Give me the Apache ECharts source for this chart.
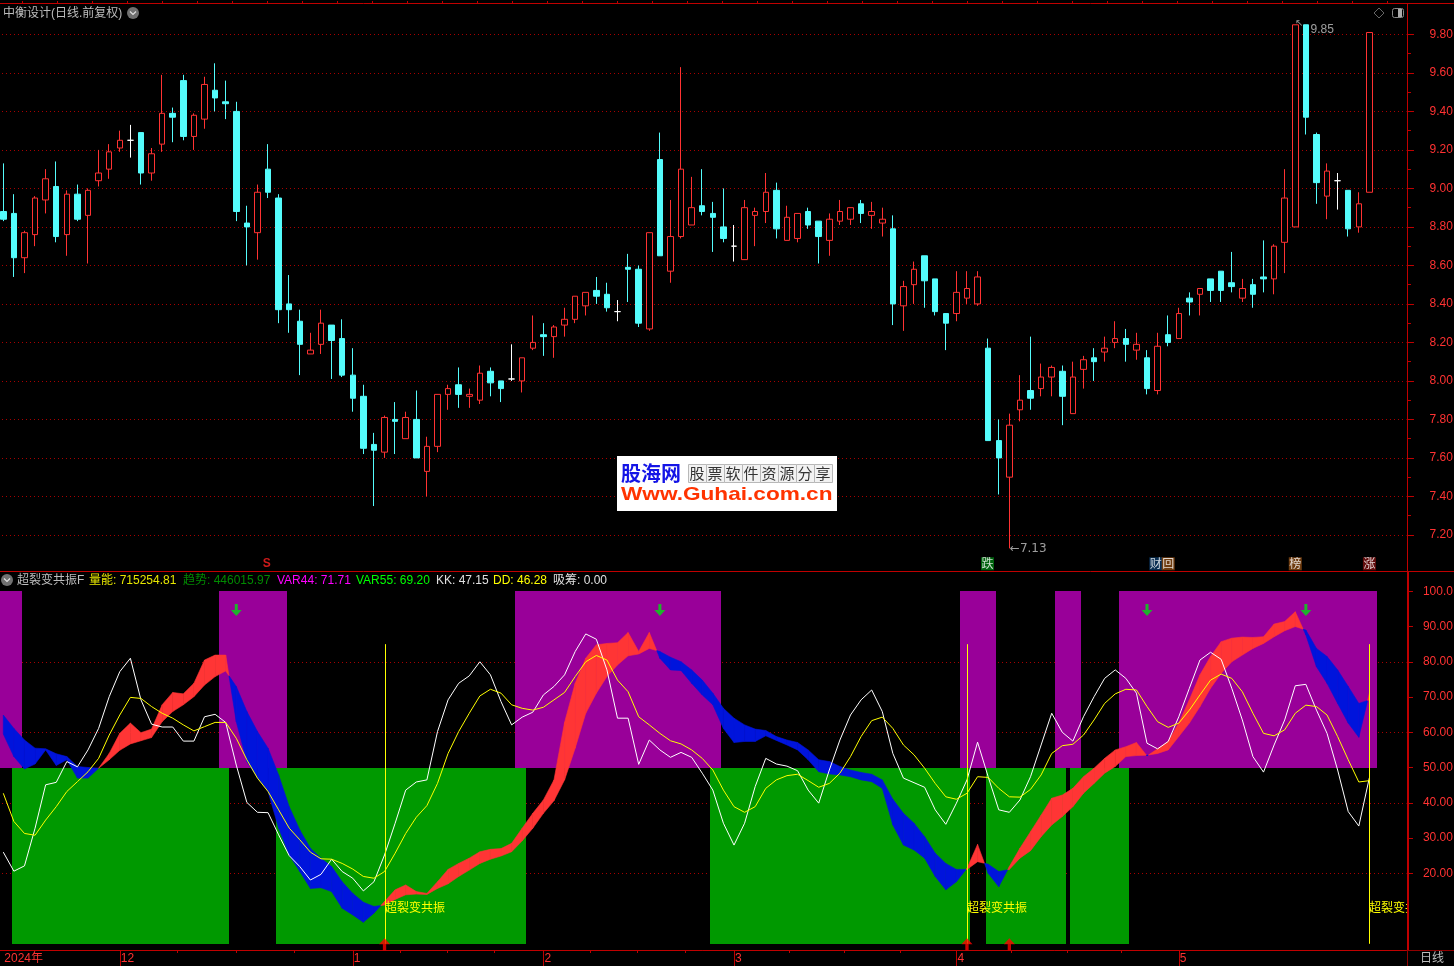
<!DOCTYPE html>
<html><head><meta charset="utf-8">
<style>html,body{margin:0;padding:0;background:#000}#c{width:1454px;height:966px}</style>
<script src="https://cdn.jsdelivr.net/npm/echarts@6/dist/echarts.min.js"></script>
</head><body><div id="c"></div>
<script>
const opens=[8.88,8.87,8.64,8.76,8.94,9.01,8.76,8.97,8.86,9.04,9.10,9.21,9.25,9.29,9.08,9.23,9.39,9.56,9.27,9.36,9.51,9.45,9.40,8.82,8.77,9.10,8.95,8.40,8.31,8.14,8.19,8.29,8.22,8.03,7.92,7.67,7.63,7.80,7.70,7.80,7.53,7.66,7.93,7.98,7.92,7.90,8.05,8.00,8.01,8.00,8.17,8.24,8.23,8.29,8.32,8.39,8.47,8.45,8.36,8.59,8.58,8.27,9.15,8.57,8.75,8.81,8.91,8.87,8.80,8.70,8.63,8.86,8.88,8.99,8.73,8.74,8.88,8.83,8.73,8.83,8.84,8.92,8.86,8.82,8.79,8.39,8.50,8.65,8.53,8.35,8.35,8.43,8.40,8.17,7.69,7.50,7.85,7.95,7.96,8.02,8.05,7.83,8.06,8.12,8.15,8.20,8.22,8.16,8.12,7.95,8.24,8.22,8.43,8.45,8.53,8.57,8.51,8.43,8.50,8.54,8.53,8.72,8.80,9.85,9.28,8.96,9.04,8.99,8.80,8.98];
const closes=[8.84,8.64,8.77,8.95,9.05,8.75,8.97,8.84,8.99,9.08,9.19,9.25,9.25,9.08,9.18,9.39,9.37,9.27,9.38,9.54,9.47,9.44,8.88,8.80,8.98,8.98,8.37,8.37,8.19,8.16,8.30,8.21,8.03,7.91,7.65,7.64,7.81,7.79,7.81,7.60,7.66,7.93,7.96,7.93,7.93,8.04,7.99,7.96,8.01,8.12,8.20,8.23,8.28,8.32,8.44,8.46,8.44,8.38,8.36,8.58,8.30,8.77,8.65,8.75,9.10,8.90,8.88,8.85,8.74,8.70,8.90,8.88,8.98,8.79,8.85,8.87,8.81,8.75,8.84,8.88,8.90,8.87,8.88,8.84,8.40,8.49,8.58,8.52,8.36,8.30,8.46,8.48,8.54,7.69,7.60,7.77,7.90,7.91,8.02,8.07,7.92,8.02,8.11,8.10,8.17,8.22,8.19,8.19,7.96,8.18,8.20,8.35,8.41,8.48,8.47,8.47,8.49,8.48,8.45,8.53,8.70,8.95,9.85,9.37,9.03,9.09,9.04,8.79,8.92,9.81];
const lows=[8.83,8.54,8.56,8.70,8.87,8.72,8.65,8.83,8.61,9.01,9.05,9.19,9.16,9.02,9.04,9.19,9.24,9.25,9.20,9.31,9.40,9.36,8.83,8.60,8.63,8.95,8.30,8.25,8.03,8.14,8.14,8.01,8.02,7.84,7.62,7.35,7.60,7.62,7.70,7.60,7.40,7.63,7.85,7.86,7.86,7.88,7.92,7.89,8.00,7.94,8.16,8.13,8.12,8.23,8.30,8.34,8.40,8.36,8.31,8.41,8.28,8.26,8.65,8.51,8.74,8.81,8.86,8.67,8.72,8.62,8.63,8.70,8.82,8.74,8.73,8.72,8.79,8.61,8.65,8.81,8.81,8.82,8.79,8.75,8.29,8.26,8.40,8.38,8.34,8.16,8.31,8.40,8.39,7.69,7.41,7.13,7.79,7.85,7.92,7.92,7.77,7.83,7.96,8.00,8.10,8.17,8.10,8.11,7.93,7.93,8.18,8.22,8.34,8.34,8.41,8.41,8.46,8.41,8.38,8.46,8.45,8.56,8.80,9.28,8.92,8.84,8.89,8.75,8.77,8.98];
const highs=[9.13,8.97,8.78,8.96,9.10,9.14,8.99,9.02,9.00,9.20,9.23,9.30,9.33,9.29,9.21,9.59,9.42,9.59,9.39,9.58,9.65,9.56,9.45,8.91,9.02,9.23,8.97,8.55,8.37,8.25,8.37,8.29,8.32,8.17,7.98,7.73,7.82,7.89,7.84,7.95,7.71,7.93,7.98,8.07,7.96,8.08,8.07,8.00,8.19,8.12,8.34,8.30,8.29,8.38,8.44,8.46,8.54,8.51,8.42,8.66,8.60,8.77,9.29,8.94,9.63,9.06,9.10,8.93,9.00,8.81,8.94,8.90,9.08,9.03,8.91,8.87,8.90,8.83,8.87,8.94,8.90,8.94,8.93,8.90,8.86,8.52,8.62,8.65,8.53,8.35,8.57,8.57,8.57,8.22,7.80,7.83,8.03,8.23,8.09,8.08,8.08,8.10,8.13,8.17,8.23,8.31,8.27,8.25,8.16,8.25,8.34,8.38,8.46,8.48,8.53,8.57,8.67,8.53,8.53,8.73,8.71,9.10,9.85,9.85,9.29,9.13,9.08,8.99,8.98,9.81];

const whiteLine=[26.0,20.6,22.1,32.8,45.1,45.8,51.7,50.2,55,61.1,70.1,77.2,81,69.2,62.3,61.5,61.5,57.5,57.5,64.4,65.1,62.8,50.7,40.1,37.3,37.2,30.9,25,21.9,18.1,19.7,24,20.5,18.6,15,17.6,25.2,34.2,43.6,45.9,46.5,60.2,69.2,73.9,76,80,76.3,68.7,62.1,64.3,65.7,70.6,73,76.3,82.9,87.9,86.4,77.7,64,64,50.9,57.8,55,52.9,54.3,52.9,48.4,43.6,34.2,28,34.2,44.6,52.6,51,50.4,49.1,43.6,39.9,49.3,57.8,64.9,69.2,72,65.9,54,47,45.7,44.4,38,33.9,39.9,46.5,57.2,47.4,38,37.3,40.8,47.4,56.4,65.4,60,57.5,64.4,70.1,75.3,77.7,75.3,71.1,56.9,55.3,57.4,64.4,72.5,80.5,82.7,80.7,72.5,63.5,53.1,48.7,56.4,63.5,73.2,73.6,66.3,59.7,49.3,37.5,33.4,47.15];
const yellowLine=[42.7,34.7,31.3,30.8,35.1,38.9,43.2,46,48.8,52.6,59.2,64.9,69.9,69.6,67.3,65.4,64,62.1,60.4,61.6,62.8,62.8,58.3,52.2,47,43.2,38,32.8,29.5,26,24.1,24,22.8,21.2,19.1,18.6,20.5,25.7,31.3,35.9,39.2,45.5,54,60.2,65.4,70.3,72.2,71.1,67.8,66.8,66.3,67.1,69.2,71.3,75.8,80,81.8,80.5,74.8,71.5,64.4,62.1,59.7,57.6,56.7,55,52.6,49.3,43.6,38.9,37.3,38.9,44.1,46.5,47.7,48.1,46.3,44.4,45.5,48.4,53.1,58.8,63.3,64.3,61.1,56.4,53.6,49.8,45.5,41.7,41,42.7,47.4,47.2,44.1,41.7,41.6,43.8,47.9,54,56.2,56.6,59.2,63.5,68.2,70.9,72.2,72,67.3,63,61.4,62.6,66.3,70.6,74.8,76.5,75.3,71.5,65.4,59.7,59,60.7,65.4,67.7,67.3,64.9,58.8,52.2,45.9,46.28];
const ribbonA=[59.5,53.1,49.6,51,55,50.6,52.2,47,47,49.8,54,59.7,62.6,59.9,60.9,67.8,71.3,70.9,73.9,80.5,81.9,81.9,63,51.7,47,43.2,32.8,25.2,20.5,15.7,15.9,14.8,10.1,8.2,6.1,8.7,12,15.3,16.7,14.8,14.3,17.6,21.1,22.8,24.3,26.1,26.8,27,28.5,32.8,37,40.8,46.5,62.8,73.9,81,84.8,85.2,85.4,88.3,82.9,88.3,81,77.7,77.5,73.9,70.6,67.8,61.1,57.1,57.4,57.4,59,57.7,56.4,55,52.2,48.8,48.2,47.9,47.4,46.5,46,44.1,33.7,28,26.6,24.3,19.1,15.3,17.6,21.4,28.2,20,16.2,21.9,27.1,31.8,36.5,41.3,42.2,44.1,47.4,49.8,52.6,55,55.9,57.1,53.3,55.3,57.4,62.6,69.2,76.3,81.5,85.7,86.7,87,86.9,87.1,90.7,91.4,94.2,87.6,78.6,73.9,68.2,62.6,58.6,71.1];
const ribbonB=[64.9,61.1,57.8,55.5,55.3,53.9,53.1,50.3,50,49.8,52.2,54.9,56.7,57.6,58.5,63,65.9,67.8,70.1,73.4,75.8,77.4,73,65.9,60.2,55.5,47.9,38.9,32.3,27.1,24.3,21.9,17.6,14.3,11.8,10.6,11,12.6,13.9,14.1,14,15.7,17,19.1,20.9,22.8,24,24.9,26.1,29.2,32.8,37,40.6,46.5,55.5,65.4,71.1,75.8,79.1,81.7,82.2,83.8,82.9,81.3,80,77.7,74.8,71.1,66.8,64,62.1,60.9,60.5,58.8,57.8,57.1,55,52.2,51.7,50.3,49.3,48.6,48.1,46.5,41,37,34.2,30.4,25.7,22.8,21.1,21.1,23.3,22.6,20.5,21.1,24.3,26.4,30.4,33.7,36.1,38.9,42.7,45.5,48.4,50.3,53.1,53.4,53.5,54,55,58.8,62.6,67.3,72.5,76.7,80,81.9,83.8,85.2,87.1,88.8,90,89,83.8,81.5,77.7,73,68.2,69.2];

const purpleRanges=[[-0.5,1.77],[20.37,26.79],[48.32,67.77],[90.34,93.74],[99.31,101.77],[105.35,129.71]];
const greenRanges=[[0.82,21.31],[25.75,49.36],[66.73,91.28],[92.8,100.35],[100.73,106.3]];
const signalIdx=[36,91,129];
const buyArrowIdx=[36,91,95];
const sellArrowIdx=[22,62,108,123];
const signalText='超裂变共振';
const tagList=[['跌',92.94,'#007a12'],['财',108.83,'#0b3a66'],['回',110,'#8a4a12'],['榜',122,'#8a4a12'],['涨',129,'#7a1010']];

const priceTicks=[7.2,7.4,7.6,7.8,8.0,8.2,8.4,8.6,8.8,9.0,9.2,9.4,9.6,9.8];
const priceMinorTicks=[7.3,7.5,7.7,7.9,8.1,8.3,8.5,8.7,8.9,9.1,9.3,9.5,9.7];
const oscTicks=[20,30,40,50,60,70,80,90,100];
const oscGrid=[20,40,60,80];
const monthIdx=[0,11,33,51,69,90,111];
const monthLabels=['2024年','12','1','2','3','4','5'];
const subTicks=[16.4,22,27.5,37.5,41.9,46.4,55.4,59.9,64.4,74.2,79.4,84.7,95.2,100.5,105.6];

const N=133;
const categories=[];
for(let i=0;i<N;i++){const k=monthIdx.indexOf(i);categories.push(k>=0?monthLabels[k]:'d'+i);}

const RED='#ff3232',CYAN='#54fcfc',FRAME='#c00000',GRIDC='#a80000';
const SANS='"Liberation Sans",Arial,"Noto Sans CJK SC",sans-serif';
const topTicks=[];
for(let x=22;x<1408;x+=35)topTicks.push((x-3.3)/10.59);

const candleData=opens.map((o,i)=>[o,closes[i],lows[i],highs[i]]);
const ribbonData=ribbonA.slice(0,-1).map((a,i)=>[i,a,ribbonB[i],ribbonA[i+1],ribbonB[i+1]]);

function bandSeries(name,ranges,hi,lo,color,z){
  return {name,type:'custom',xAxisIndex:3,yAxisIndex:2,z,silent:true,
    data:ranges.map(r=>[r[0],r[1],hi,lo]),encode:{x:[0,1],y:[2,3]},
    renderItem(p,api){
      const a=api.coord([api.value(0),api.value(2)]),b=api.coord([api.value(1),api.value(3)]);
      return {type:'rect',shape:{x:Math.round(a[0]),y:Math.round(a[1]),width:Math.round(b[0])-Math.round(a[0]),height:Math.round(b[1])-Math.round(a[1])},style:{fill:color}};
    }};
}
function ribbonItem(p,api){
  const i=api.value(0),a0=api.value(1),b0=api.value(2),a1=api.value(3),b1=api.value(4);
  const d0=a0-b0,d1=a1-b1;
  const poly=(pts,up)=>({type:'polygon',shape:{points:pts.map(q=>api.coord(q))},
    style:{fill:up?'#ff3535':'#0014dc',stroke:up?'#ff3535':'#0014dc',lineWidth:0.6}});
  if(d0*d1<0){
    const t=d0/(d0-d1),xc=i+t,yc=a0+(a1-a0)*t;
    return {type:'group',children:[
      poly([[i,a0],[xc,yc],[i,b0]],d0>0),
      poly([[xc,yc],[i+1,a1],[i+1,b1]],d1>0)]};
  }
  return poly([[i,a0],[i+1,a1],[i+1,b1],[i,b0]],(d0+d1)>=0);
}
const clear={color:'rgba(0,0,0,0)'};

const series=[
 {name:'K',type:'candlestick',xAxisIndex:0,yAxisIndex:0,barWidth:6,z:3,silent:true,
  data:candleData,
  itemStyle:{color:'#000',color0:CYAN,borderColor:RED,borderColor0:CYAN,borderColorDoji:'#fff',borderWidth:1}},
 {name:'notes',type:'scatter',xAxisIndex:1,yAxisIndex:0,symbolSize:1,z:4,silent:true,itemStyle:clear,
  data:[
   {value:[95,7.13],label:{show:true,position:'right',distance:0,formatter:'←7.13',color:'#c4c4c4',fontSize:12,fontFamily:'"DejaVu Sans",'+SANS}},
   {value:[122.05,9.855],label:{show:true,position:'right',distance:-1,formatter:'↖',color:'#c4c4c4',fontSize:10,fontFamily:'"DejaVu Sans",'+SANS}},
   {value:[123.39,9.823],label:{show:true,position:'right',distance:0,formatter:'9.85',color:'#c4c4c4',fontSize:12,fontFamily:SANS}},
   {value:[24.87,7.05],label:{show:true,position:'inside',formatter:'S',color:'#ff2020',fontSize:12,fontWeight:'bold',fontFamily:SANS}}
  ]},
 {name:'tags',type:'scatter',xAxisIndex:1,yAxisIndex:0,symbol:'rect',symbolSize:[13,13],z:4,silent:true,
  data:tagList.map(t=>({value:[t[1],7.05],itemStyle:{color:t[2]},
    label:{show:true,position:'inside',formatter:t[0],color:'#fff',fontSize:12,fontFamily:'"Noto Sans CJK SC"'}}))},
 bandSeries('green',greenRanges,50,0,'#009900',1),
 bandSeries('purple',purpleRanges,100,50,'#990099',1),
 {name:'ribbon',type:'custom',xAxisIndex:3,yAxisIndex:2,z:2,silent:true,data:ribbonData,
  encode:{x:0,y:[1,2,3,4]},renderItem:ribbonItem},
 {name:'KK',type:'line',xAxisIndex:2,yAxisIndex:2,data:whiteLine,symbol:'none',z:3,silent:true,
  lineStyle:{color:'#ffffff',width:1}},
 {name:'DD',type:'line',xAxisIndex:2,yAxisIndex:2,data:yellowLine,symbol:'none',z:4,silent:true,
  lineStyle:{color:'#ffff00',width:1}},
 {name:'signal',type:'custom',xAxisIndex:3,yAxisIndex:2,z:5,clip:true,silent:true,
  data:signalIdx.map(i=>[i,85,0,10.2]),encode:{x:0,y:[1,2]},
  renderItem(p,api){
    const a=api.coord([api.value(0),api.value(1)]),b=api.coord([api.value(0),api.value(2)]),c=api.coord([api.value(0),api.value(3)]);
    const x=Math.round(a[0])+0.5;
    return {type:'group',children:[
      {type:'line',shape:{x1:x,y1:a[1],x2:x,y2:b[1]},style:{stroke:'#ffff00',lineWidth:1}},
      {type:'text',style:{x:x-0.5,y:c[1],text:signalText,fill:'#ffff00',font:'12px "Noto Sans CJK SC"',textVerticalAlign:'middle',textAlign:'left'}}
    ]};
  }},
 {name:'sell',type:'scatter',xAxisIndex:3,yAxisIndex:2,z:6,silent:true,
  symbol:'path://M4 0H7V6H11L5.5 12L0 6H4Z',symbolSize:[11,12],itemStyle:{color:'#00dd10'},
  data:sellArrowIdx.map(i=>[i,94.7])},
 {name:'buy',type:'scatter',xAxisIndex:3,yAxisIndex:2,z:6,silent:true,
  symbol:'path://M5 0L10 6H6.5V12H3.5V6H0Z',symbolSize:[11,12],itemStyle:{color:'#ff0000'},
  data:buyArrowIdx.map(i=>[i,-0.1])}
];

const lineEl=(x1,y1,x2,y2,stroke,w)=>({type:'line',z:50,silent:true,shape:{x1,y1,x2,y2},style:{stroke:stroke,lineWidth:w||1}});
const txt=(x,y,text,fill,extra)=>Object.assign({type:'text',z:60,silent:true,x,y,style:{text,fill,font:'12px '+SANS,textVerticalAlign:'middle'}},extra||{});

const headerBits=[[17,'超裂变共振F','#bdbdbd'],[89,'量能: 715254.81','#e6e600'],[183,'趋势: 446015.97','#008a00'],[277,'VAR44: 71.71','#ff00ff'],[356,'VAR55: 69.20','#00ff00'],[436,'KK: 47.15','#e0e0e0'],[493,'DD: 46.28','#ffff00'],[553,'吸筹: 0.00','#e0e0e0']];
const wmCells='股票软件资源分享'.split('');

const chevron=(cx,cy)=>[
 {type:'circle',z:60,silent:true,shape:{cx,cy,r:6},style:{fill:'#707070'}},
 {type:'polyline',z:61,silent:true,shape:{points:[[cx-3,cy-1.5],[cx,cy+1.5],[cx+3,cy-1.5]]},style:{stroke:'#e0e0e0',lineWidth:1.2,fill:null}}];

const graphics=[
 lineEl(0,3.5,1454,3.5,FRAME),
 lineEl(0,571.5,1454,571.5,FRAME),
 lineEl(1407.5,4,1407.5,572,FRAME,1),
 lineEl(1408,572,1408,950,FRAME,2),
 lineEl(1408,950.5,1454,950.5,'#900000'),
 lineEl(1407.5,950,1407.5,966,'#900000'),
 txt(3,14,'中衡设计(日线.前复权)','#bdbdbd'),
 ...chevron(133,13),
 ...chevron(7,580),
 {type:'polygon',z:60,silent:true,shape:{points:[[1379,8],[1384,13],[1379,18],[1374,13]]},style:{fill:null,stroke:'#666',lineWidth:1}},
 {type:'rect',z:60,silent:true,shape:{x:1392.5,y:8.5,width:11,height:9,r:2},style:{fill:null,stroke:'#888',lineWidth:1}},
 {type:'rect',z:60,silent:true,shape:{x:1398,y:9,width:4,height:8},style:{fill:'#aaa'}},
 ...headerBits.map(h=>txt(h[0],581,h[1],h[2])),
 txt(1420,959,'日线','#bdbdbd'),
 {type:'rect',z:70,silent:true,shape:{x:617,y:456,width:220,height:55},style:{fill:'#fff'}},
 {type:'text',z:71,silent:true,x:621,y:473,style:{text:'股海网',fill:'#1414e6',font:'bold 20px "Noto Sans CJK SC"',textVerticalAlign:'middle'}},
 ...wmCells.map((c,i)=>({type:'rect',z:71,silent:true,shape:{x:688.5+18*i,y:464.5,width:18,height:18},style:{fill:'#f2f2f2',stroke:'#b8b8b8',lineWidth:1}})),
 ...wmCells.map((c,i)=>({type:'text',z:72,silent:true,x:689.5+18*i,y:473.5,style:{text:c,fill:'#333',font:'15px "Noto Sans CJK SC"',textVerticalAlign:'middle'}})),
 {type:'text',z:71,silent:true,x:621,y:495,scaleX:1.19,style:{text:'Www.Guhai.com.cn',fill:'#ff3300',font:'bold 19px "Liberation Sans",Arial',textVerticalAlign:'middle'}}
];

const priceMin=7.0125,priceMax=9.958,oscMin=-1.76,oscMax=105.47;
const gridSpec=[{left:-2,top:4,width:1408.47,height:567,outerBoundsMode:'none'},{left:-2,top:572,width:1408.47,height:378,outerBoundsMode:'none'}];
const labelStyle={color:RED,fontSize:12,fontFamily:SANS,align:'right',margin:45};

const option={
 animation:false,backgroundColor:'#000',
 grid:gridSpec,
 graphic:{elements:graphics},
 xAxis:[
  {type:'category',gridIndex:0,data:categories,show:false},
  {type:'value',gridIndex:0,min:-0.5,max:N-0.5,position:'top',splitLine:{show:false},axisLabel:{show:false},
   axisLine:{show:false,onZero:false},axisTick:{show:true,length:3,customValues:topTicks,lineStyle:{color:FRAME}}},
  {type:'category',gridIndex:1,data:categories,position:'bottom',
   axisLine:{show:true,onZero:false,lineStyle:{color:FRAME,width:1}},
   axisTick:{show:true,length:16,alignWithLabel:true,customValues:monthIdx.slice(1),lineStyle:{color:FRAME}},
   axisLabel:{show:true,customValues:monthIdx,color:RED,fontSize:12,fontFamily:SANS,align:'left',margin:3,padding:[0,0,0,1],hideOverlap:false,interval:0,
     formatter:v=>{const k=monthLabels.indexOf(v);return k>=0?v:'';}},
   splitLine:{show:false}},
  {type:'value',gridIndex:1,min:-0.5,max:N-0.5,position:'bottom',splitLine:{show:false},axisLabel:{show:false},
   axisLine:{show:false,onZero:false},axisTick:{show:true,length:3,customValues:subTicks,lineStyle:{color:FRAME}}}
 ],
 yAxis:[
  {type:'value',gridIndex:0,min:priceMin,max:priceMax,position:'right',offset:1.5,scale:true,
   axisLine:{show:false,onZero:false},
   axisTick:{show:true,length:6,customValues:priceTicks,lineStyle:{color:FRAME}},
   axisLabel:{...labelStyle,customValues:priceTicks,formatter:v=>(+v).toFixed(2)},
   splitLine:{show:true,lineStyle:{color:GRIDC,type:[1,3],width:1}}},
  {type:'value',gridIndex:0,min:priceMin,max:priceMax,position:'right',offset:1.5,
   axisLine:{show:false,onZero:false},axisLabel:{show:false},splitLine:{show:false},
   axisTick:{show:true,length:3,customValues:priceMinorTicks,lineStyle:{color:FRAME}}},
  {type:'value',gridIndex:1,min:oscMin,max:oscMax,position:'right',offset:1.5,
   axisLine:{show:false,onZero:false},
   axisTick:{show:true,length:5,customValues:oscTicks,lineStyle:{color:FRAME}},
   axisLabel:{...labelStyle,customValues:oscTicks,formatter:v=>v>=100?(+v).toFixed(1):(+v).toFixed(2)},
   splitLine:{show:false}},
  {type:'value',gridIndex:1,min:oscMin,max:oscMax,position:'right',offset:1.5,
   axisLine:{show:false,onZero:false},axisLabel:{show:false},
   axisTick:{show:false,customValues:oscGrid},
   splitLine:{show:true,lineStyle:{color:GRIDC,type:[1,3],width:1}}}
 ],
 series
};
const chart=echarts.init(document.getElementById('c'),null,{renderer:'canvas',width:1454,height:966});
chart.setOption(option);
</script></body></html>
